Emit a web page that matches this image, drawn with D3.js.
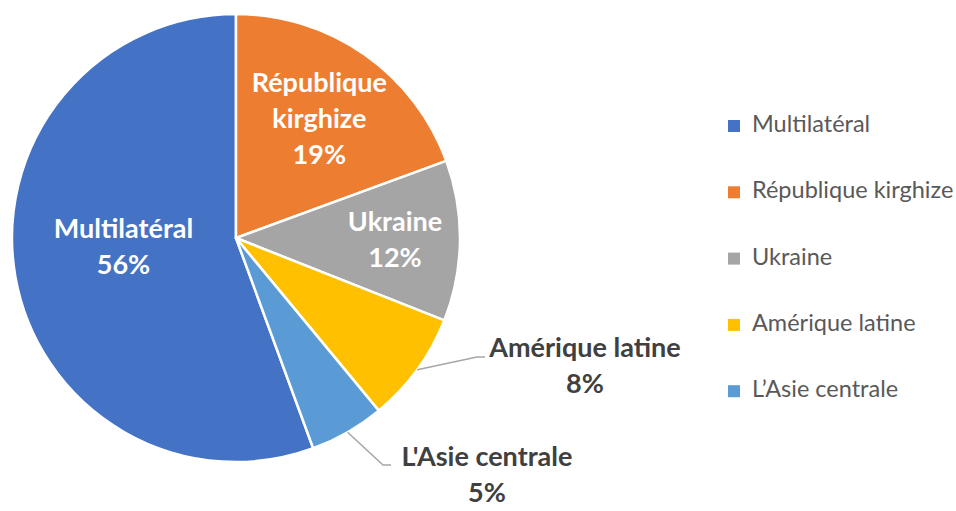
<!DOCTYPE html>
<html>
<head>
<meta charset="utf-8">
<script src="https://cdn.jsdelivr.net/npm/d3@7"></script>
<style>
  body { margin: 0; background: #fff; }
  svg { display: block; font-family: Lato, "Open Sans", sans-serif; }
</style>
</head>
<body>
<svg id="chart" width="956" height="511"></svg>
<script>
const width = 956, height = 511;

// data (legend order)
const categories = ["Multilatéral", "République kirghize", "Ukraine", "Amérique latine", "L'Asie centrale"];
const shares = [55.6, 19.4, 11.6, 8.0, 5.4];
const legendLabels = ["Multilatéral", "République kirghize", "Ukraine", "Amérique latine", "L\u2019Asie centrale"];
const labelLines = [["Multilatéral"], ["République", "kirghize"], ["Ukraine"], ["Amérique latine"], ["L'Asie centrale"]];

const colors = ["#4472C4", "#ED7D31", "#A5A5A5", "#FFC000", "#5B9BD5"];

const cx = 236, cy = 238, radius = 224;
const svg = d3.select("#chart");

const total = d3.sum(shares);
const firstAngle = -shares[0] / total * 2 * Math.PI; // first slice ends at 12 o'clock

const pie = d3.pie().sort(null).value(d => d.value)
  .startAngle(firstAngle).endAngle(firstAngle + 2 * Math.PI);

const data = categories.map((c, i) => ({ name: c, value: shares[i], i }));
const arcs = pie(data);

const arc = d3.arc().innerRadius(0).outerRadius(radius);

const g = svg.append("g").attr("transform", `translate(${cx},${cy})`);

g.selectAll("path")
  .data(arcs)
  .join("path")
    .attr("d", arc)
    .attr("fill", d => colors[d.data.i])
    .attr("stroke", "#fff")
    .attr("stroke-width", 2.5)
    .attr("stroke-linejoin", "round");

const pct = d => Math.round(d.data.value) + "%";

const fontSize = 27, lineH = 36;

// inside labels: radius factor + small nudge
const insideRadius = [0.51, 0.65, 0.71];
const insideNudge = [[0, -11], [0, 0], [0, 0]];

arcs.slice(0, 3).forEach((d, k) => {
  const a = (d.startAngle + d.endAngle) / 2;
  const r = radius * insideRadius[k];
  const x = Math.sin(a) * r + insideNudge[k][0];
  const y = -Math.cos(a) * r + insideNudge[k][1];
  const lines = labelLines[d.data.i].concat([pct(d)]);
  const t = g.append("text")
    .attr("text-anchor", "middle")
    .attr("fill", "#fff")
    .attr("font-weight", 700)
    .attr("font-size", fontSize);
  lines.forEach((ln, j) => {
    t.append("tspan")
      .attr("x", x)
      .attr("y", y + (j - (lines.length - 1) / 2) * lineH + 9)
      .text(ln);
  });
});

// outside labels with leader lines (elbow point relative to center)
const elbows = [[241, 119], [147, 227]];
const labelOffset = [[108, 0], [104, 1]];

arcs.slice(3).forEach((d, k) => {
  const a = (d.startAngle + d.endAngle) / 2;
  const x0 = Math.sin(a) * radius, y0 = -Math.cos(a) * radius;
  const [ex, ey] = elbows[k];
  g.append("polyline")
    .attr("points", [[x0, y0], [ex, ey], [ex + 8, ey]].map(p => p.join(",")).join(" "))
    .attr("fill", "none")
    .attr("stroke", "#A6A6A6")
    .attr("stroke-width", 1.5);
  const lx = ex + labelOffset[k][0], ly = ey + labelOffset[k][1];
  const lines = labelLines[d.data.i].concat([pct(d)]);
  const t = g.append("text")
    .attr("text-anchor", "middle")
    .attr("fill", "#404040")
    .attr("font-weight", 700)
    .attr("font-size", fontSize);
  lines.forEach((ln, j) => {
    t.append("tspan")
      .attr("x", lx)
      .attr("y", ly + j * lineH)
      .text(ln);
  });
});

// legend
const legend = svg.append("g").attr("transform", "translate(728,132)");
const item = legend.selectAll("g")
  .data(legendLabels)
  .join("g")
    .attr("transform", (d, i) => `translate(0,${i * 66.3})`);

item.append("rect")
  .attr("x", 0).attr("y", -12)
  .attr("width", 12).attr("height", 12)
  .attr("fill", (d, i) => colors[i]);

item.append("text")
  .attr("x", 24).attr("y", 0)
  .attr("fill", "#595959")
  .attr("font-size", 23.5)
  .text(d => d);
</script>
</body>
</html>
